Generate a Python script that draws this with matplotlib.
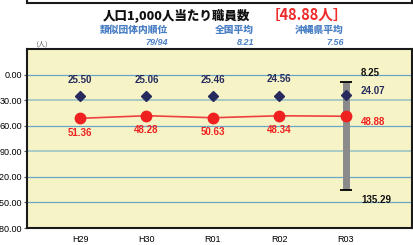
import matplotlib
matplotlib.use("Agg")
import matplotlib.pyplot as plt
from matplotlib.lines import Line2D

# data
years = ["H29", "H30", "R01", "R02", "R03"]
own = [51.36, 48.28, 50.63, 48.34, 48.88]
similar_avg = [25.50, 25.06, 25.46, 24.56, 24.07]
range_min = 8.25
range_max = 135.29
yticks = [0, 30, 60, 90, 120, 150, 180]

jp = ["Noto Sans CJK JP", "DejaVu Sans"]
num = "Liberation Sans"

fig = plt.figure(figsize=(4.13, 2.45), dpi=100)
ax = fig.add_axes([27 / 413, 1 - 228 / 245, 385 / 413, 179 / 245])
ax.set_facecolor("#f6f4c6")

x = list(range(len(years)))

# grid lines
for v in yticks:
    col = "#9cc3c4" if v in (30, 90) else "#6ba6c9"
    ax.axhline(v, color=col, lw=1.2 if v in (30, 90) else 0.9, zorder=1)

# range bar for the last year
ax.vlines(x[-1], range_min, range_max, color="#8a8a8a", lw=5, zorder=2)
ax.hlines([range_min, range_max], x[-1] - 0.09, x[-1] + 0.09, color="black", lw=1.3, zorder=3)

ax.plot(x, own, color="#ee4040", lw=1.2, zorder=3)
ax.plot(x, own, "o", color="#ee2020", ms=7.5, zorder=5)
ax.plot(x, similar_avg, "D", color="#262a5c", ms=5, zorder=4)

lab = dict(fontfamily=num, fontweight="bold", fontsize=7)
for i in range(len(years) - 1):
    ax.annotate(f"{similar_avg[i]:.2f}", (x[i], similar_avg[i]), xytext=(0, 8),
                textcoords="offset points", ha="center", va="bottom", color="#262a5c", **lab)
    ax.annotate(f"{own[i]:.2f}", (x[i], own[i]), xytext=(0, -7),
                textcoords="offset points", ha="center", va="top", color="#ee2020", **lab)

i = len(years) - 1
ax.annotate(f"{similar_avg[i]:.2f}", (x[i], similar_avg[i]), xytext=(11, 3),
            textcoords="offset points", ha="left", va="center", color="#262a5c", **lab)
ax.annotate(f"{own[i]:.2f}", (x[i], own[i]), xytext=(11, -4),
            textcoords="offset points", ha="left", va="center", color="#ee2020", **lab)
ax.annotate(f"{range_min:.2f}", (x[i], range_min), xytext=(11, 6),
            textcoords="offset points", ha="left", va="center", color="#111111", **lab)
ax.annotate(f"{range_max:.2f}", (x[i], range_max), xytext=(11, -7),
            textcoords="offset points", ha="left", va="center", color="#111111", **lab)

ax.set_xlim(-0.8, 5.0)
ax.set_ylim(180, -30)
ax.set_yticks(yticks)
ax.set_yticklabels([f"{v:.2f}" for v in yticks], fontfamily=num, fontsize=6.5)
ax.set_xticks(x)
ax.set_xticklabels(years, fontfamily=num, fontsize=6.5)
ax.tick_params(axis="y", length=2, pad=1.5, color="#555555")
ax.tick_params(axis="x", length=0, pad=5)
for s in ax.spines.values():
    s.set_linewidth(1.5)
    s.set_color("#1a1a1a")

# titles
fig.text(177 / 413, 1 - 15 / 245, "人口1,000人当たり職員数", family=jp, fontweight="heavy",
         fontsize=9, ha="center", va="center", color="#111111")
fig.text(307 / 413, 1 - 15 / 245, "［48.88人］", family=jp, fontweight="bold",
         fontsize=10.5, ha="center", va="center", color="#ee2a2a")

blue = "#4a7fc4"
subs = [("類似団体内順位", "79/94", 168), ("全国平均", "8.21", 254), ("沖縄県平均", "7.56", 344)]
for name, val, xr in subs:
    fig.text(xr / 413, 1 - 30 / 245, name, family=jp, fontweight="heavy", style="italic",
             fontsize=7, ha="right", va="center", color=blue)
    fig.text(xr / 413, 1 - 42 / 245, val, family=num, fontweight="bold", style="italic",
             fontsize=6.5, ha="right", va="center", color=blue)

fig.text(31 / 413, 1 - 44 / 245, "（人）", family=jp, fontsize=5, ha="left", va="center",
         color="#555555")

# bottom edge of the frame above the chart
y0 = 1 - 3 / 245
for xs, ys in [([27 / 413, 412 / 413], [y0, y0]), ([27 / 413, 27 / 413], [y0, 1.01]),
               ([412 / 413, 412 / 413], [y0, 1.01])]:
    fig.add_artist(Line2D(xs, ys, color="#1a1a1a", lw=1.5, transform=fig.transFigure))

fig.savefig("out.png", dpi=100)
